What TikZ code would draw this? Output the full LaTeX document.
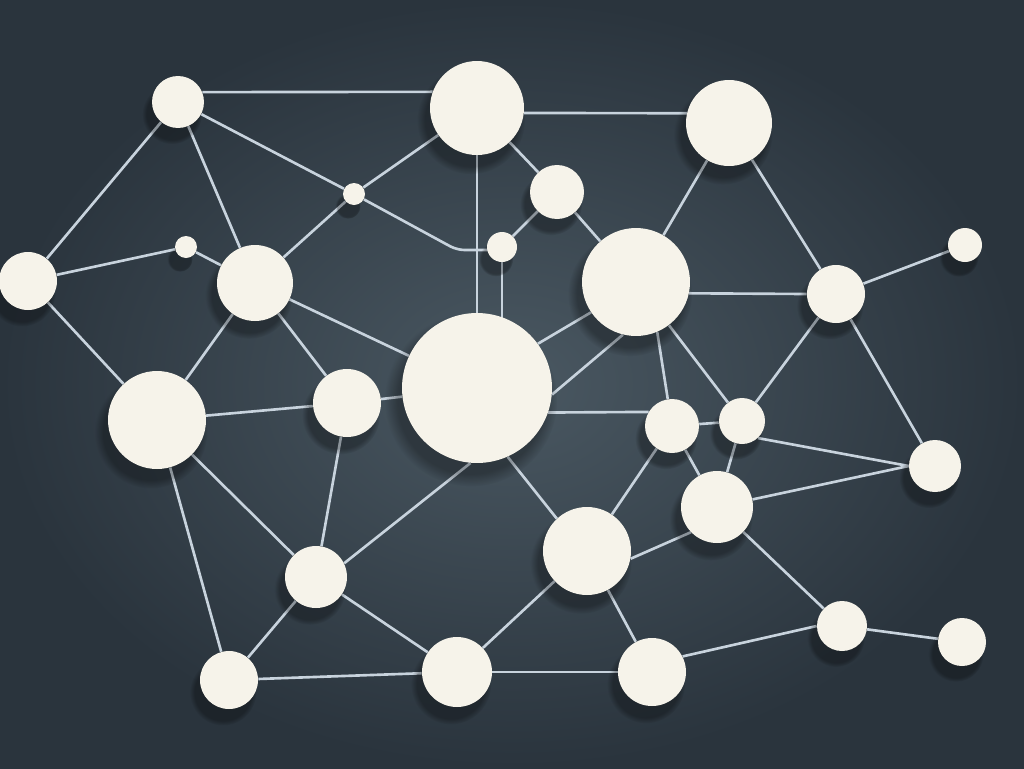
\documentclass[tikz,border=0pt]{standalone}
\usetikzlibrary{shadows,backgrounds}
\definecolor{cream}{RGB}{246,243,234}
\definecolor{wirec}{RGB}{200,211,221}
\definecolor{bgin}{RGB}{74,88,98}
\definecolor{bgout}{RGB}{42,52,61}
\begin{document}
\begin{tikzpicture}[x=0.02cm,y=-0.02cm,
  ball/.style={circle, fill=cream, inner sep=0pt, minimum size=#1 cm,
    circular drop shadow={shadow xshift=-3pt, shadow yshift=-6pt, shadow scale=1.15, fill=black, opacity=0.3}},
  link/.style={draw=wirec, line width=1.5pt}]
\useasboundingbox (0,0) rectangle (1024,768);
% nodes (pixel coordinates, diameter in cm)
\node[ball=1.04] (A) at (178,102) {};
\node[ball=1.88] (B) at (477,108) {};
\node[ball=1.72] (C) at (729,123) {};
\node[ball=0.44] (D) at (354,194) {};
\node[ball=1.08] (E) at (557,192) {};
\node[ball=0.44] (F) at (186,247) {};
\node[ball=0.60] (G) at (502,247) {};
\node[ball=0.68] (H) at (965,245) {};
\node[ball=1.16] (I) at (28,281) {};
\node[ball=1.52] (J) at (255,283) {};
\node[ball=2.16] (K) at (636,282) {};
\node[ball=1.16] (L) at (836,294) {};
\node[ball=3.00] (M) at (477,388) {};
\node[ball=1.96] (N) at (157,420) {};
\node[ball=1.36] (O) at (347,403) {};
\node[ball=1.08] (P) at (672,426) {};
\node[ball=0.92] (Q) at (742,421) {};
\node[ball=1.04] (R) at (935,466) {};
\node[ball=1.44] (S) at (717,507) {};
\node[ball=1.76] (T) at (587,551) {};
\node[ball=1.24] (U) at (316,577) {};
\node[ball=1.00] (V) at (842,626) {};
\node[ball=0.96] (W) at (962,642) {};
\node[ball=1.16] (X) at (229,680) {};
\node[ball=1.40] (Y) at (457,672) {};
\node[ball=1.36] (Z) at (652,672) {};
\coordinate (dg) at (457,250);
\begin{pgfonlayer}{background}
\shade[inner color=bgin, outer color=bgout] (0,0) rectangle (1024,768);
\begin{scope}[link]
\draw (A.22) -- (B.160);
\draw (A) -- (D);
\draw (A) -- (I);
\draw (A) -- (J);
\draw (B.-6) -- (C.167);
\draw (B) -- (D);
\draw (B) -- (E);
\draw (B) -- (M);
\draw (C) -- (K);
\draw (C) -- (L);
\draw (D) -- (J);
\draw[rounded corners=0.15cm] (D) -- (dg) -- (dg -| G);
\draw (E) -- (G);
\draw (E) -- (K);
\draw (F) -- (I);
\draw (F) -- (J);
\draw (G) -- (G |- M);
\draw (H) -- (L);
\draw (I) -- (N);
\draw (J) -- (M);
\draw (J) -- (N);
\draw (J) -- (O);
\draw (K.-12) -- (L.180);
\draw (M.36) -- (K.214);
\draw (M.-5) -- (K.256);
\draw (K.-67) -- (P);
\draw (K) -- (Q);
\draw (L) -- (Q);
\draw (L) -- (R);
\draw (O) -- (M);
\draw (M.-19) -- (P.149);
\draw (M.-66) -- (T.133);
\draw (U.26) -- (M.265);
\draw (N) -- (O);
\draw (N) -- (U);
\draw (N) -- (X);
\draw (O) -- (U);
\draw (P) -- (Q);
\draw (P) -- (S);
\draw (P) -- (T);
\draw (Q.-47) -- (R.west);
\draw (Q) -- (S);
\draw (S) -- (R.west);
\draw (T.-10) -- (S.224);
\draw (S) -- (V);
\draw (T) -- (Y);
\draw (T) -- (Z);
\draw (U) -- (X);
\draw (U) -- (Y);
\draw (V) -- (W);
\draw (Z.27) -- (V.west);
\draw (X) -- (Y);
\draw (Y) -- (Z);
\end{scope}
\end{pgfonlayer}
\end{tikzpicture}
\end{document}
